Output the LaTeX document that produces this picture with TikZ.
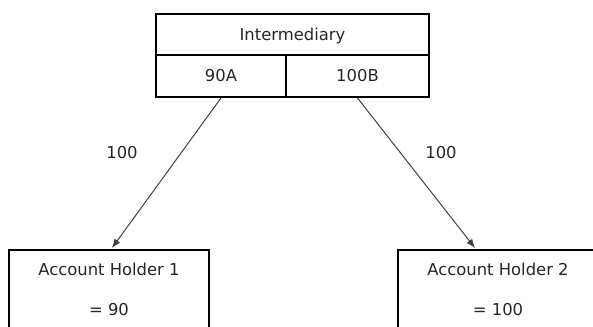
\documentclass[tikz,border=0pt]{standalone}
\usepackage{fontspec}
\setmainfont{DejaVu Sans}
\usetikzlibrary{arrows.meta,calc}
\begin{document}
\begin{tikzpicture}[x=1pt,y=1pt,
  box/.style={draw=black, line width=2pt, inner sep=0pt, text=black!85,
    font=\fontsize{16.4}{20}\selectfont, text height=12pt, text depth=0pt},
  txt/.style={inner sep=0pt, text=black!85, font=\fontsize{16.4}{20}\selectfont, anchor=base},
  flow/.style={draw=black!75, line width=1pt, -{Latex[length=9pt,width=7pt]}}]
\useasboundingbox (0,0) rectangle (593,326);
\clip (0,0) rectangle (593,326);
% top table
\node[box, minimum width=273pt, minimum height=41pt] (inter) at (292.5,291.5) {Intermediary};
\node[box, minimum width=130pt, minimum height=42pt] (a90) at (221,250) {90A};
\node[box, minimum width=143pt, minimum height=42pt] (b100) at (357.5,250) {100B};
% account holders
\node[box, minimum width=200pt, minimum height=100pt, anchor=north] (acc1) at (109,77) {};
\node[box, minimum width=200pt, minimum height=100pt, anchor=north] (acc2) at (498,77) {};
\node[txt] (acc1a) at ($(acc1.north)+(0,-27)$) {Account Holder 1};
\node[txt] (acc1b) at ($(acc1.north)+(0,-66)$) {= 90};
\node[txt] (acc2a) at ($(acc2.north)+(0,-27)$) {Account Holder 2};
\node[txt] (acc2b) at ($(acc2.north)+(0,-66)$) {= 100};
% connectors
\coordinate (t1) at (112,78);
\coordinate (t2) at (475,78);
\draw[flow] (a90.south) -- (t1);
\draw[flow] (b100.south) -- (t2);
\node[txt] (l1) at (122,167) {100};
\node[txt] (l2) at (441,167) {100};
\end{tikzpicture}
\end{document}
